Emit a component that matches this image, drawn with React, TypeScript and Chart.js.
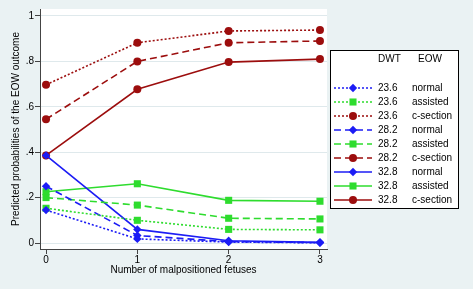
import React, { useEffect, useRef } from "react";
import { Chart, registerables } from "chart.js";

Chart.register(...registerables);

// ---- data ----
const xValues = [0, 1, 2, 3];
const xTickValues = [0, 1, 2, 3];
const yTickValues = [0, 0.2, 0.4, 0.6, 0.8, 1];
const yTickLabels = ["0", ".2", ".4", ".6", ".8", "1"];
const dwtLabels = ["23.6", "28.2", "32.8"];
const eowLabels = ["normal", "assisted", "c-section"];

const normal236 = [0.145, 0.018, 0.004, 0.001];
const assisted236 = [0.153, 0.1, 0.06, 0.058];
const csection236 = [0.697, 0.882, 0.934, 0.938];
const normal282 = [0.25, 0.033, 0.006, 0.002];
const assisted282 = [0.2, 0.167, 0.109, 0.106];
const csection282 = [0.545, 0.8, 0.882, 0.89];
const normal328 = [0.386, 0.06, 0.01, 0.003];
const assisted328 = [0.226, 0.261, 0.188, 0.184];
const csection328 = [0.386, 0.677, 0.797, 0.81];

const seriesByDwt = [
  [normal236, assisted236, csection236],
  [normal282, assisted282, csection282],
  [normal328, assisted328, csection328],
];

// ---- styles ----
const FONT = "'Liberation Sans', Arial, Helvetica, sans-serif";
const eowColors = ["#1c1cf5", "#2edc2e", "#9c0d0d"];
const eowPointStyles = ["rectRot", "rect", "circle"];
const eowPointRadius = [4.2, 5, 4];
const dwtDashes = [[2, 2], [7, 4], []];
const BG = "#eaf2f3";
const GRID = "#dfe9ec";
const AXIS = "#444444";

function drawMarker(ctx: CanvasRenderingContext2D, style: string, x: number, y: number, r: number, color: string) {
  ctx.save();
  ctx.fillStyle = color;
  ctx.setLineDash([]);
  ctx.beginPath();
  if (style === "circle") {
    ctx.arc(x, y, r, 0, Math.PI * 2);
  } else if (style === "rect") {
    const s = Math.SQRT1_2 * r;
    ctx.rect(x - s, y - s, 2 * s, 2 * s);
  } else {
    ctx.moveTo(x - r, y);
    ctx.lineTo(x, y - r);
    ctx.lineTo(x + r, y);
    ctx.lineTo(x, y + r);
    ctx.closePath();
  }
  ctx.fill();
  ctx.restore();
}

const backgroundPlugin = {
  id: "stataBackground",
  beforeDraw(chart: any) {
    const { ctx, chartArea } = chart;
    ctx.save();
    ctx.fillStyle = BG;
    ctx.fillRect(0, 0, chart.width, chart.height);
    ctx.fillStyle = "#ffffff";
    ctx.fillRect(chartArea.left, chartArea.top, chartArea.right - chartArea.left, chartArea.bottom - chartArea.top);
    ctx.restore();
  },
};

const legendPlugin = {
  id: "tableLegend",
  afterDraw(chart: any) {
    const { ctx } = chart;
    const bx = 330.5, by = 50.5, bw = 128, bh = 158;
    ctx.save();
    ctx.fillStyle = "#ffffff";
    ctx.fillRect(bx, by, bw, bh);
    ctx.strokeStyle = "#000000";
    ctx.lineWidth = 1;
    ctx.strokeRect(bx, by, bw, bh);
    ctx.font = `10px ${FONT}`;
    ctx.fillStyle = "#000000";
    ctx.textBaseline = "middle";
    ctx.textAlign = "left";
    ctx.fillText("DWT", 378, 59.5);
    ctx.fillText("EOW", 418, 59.5);
    chart.data.datasets.forEach((ds: any, i: number) => {
      const y = 88 + i * 14;
      ctx.save();
      ctx.strokeStyle = ds.borderColor;
      ctx.lineWidth = ds.borderWidth;
      ctx.setLineDash(ds.borderDash || []);
      ctx.beginPath();
      ctx.moveTo(334, y);
      ctx.lineTo(372, y);
      ctx.stroke();
      ctx.restore();
      drawMarker(ctx, ds.pointStyle, 353, y, ds.pointRadius, ds.borderColor);
      ctx.fillStyle = "#000000";
      ctx.fillText(ds.dwt, 378, y);
      ctx.fillText(ds.eow, 412, y);
    });
    ctx.restore();
  },
};

export default function App() {
  const ref = useRef<HTMLCanvasElement | null>(null);

  useEffect(() => {
    document.body.style.margin = "0";
    const canvas = ref.current;
    if (!canvas) return;
    const datasets: any[] = [];
    dwtLabels.forEach((dwt, di) => {
      eowLabels.forEach((eow, ei) => {
        const vals = seriesByDwt[di][ei];
        datasets.push({
          label: `${dwt} ${eow}`,
          dwt,
          eow,
          data: xValues.map((x, k) => ({ x, y: vals[k] })),
          borderColor: eowColors[ei],
          backgroundColor: eowColors[ei],
          pointBackgroundColor: eowColors[ei],
          pointBorderColor: eowColors[ei],
          pointBorderWidth: 0,
          borderWidth: 1.6,
          borderDash: dwtDashes[di],
          pointStyle: eowPointStyles[ei],
          pointRadius: eowPointRadius[ei],
          tension: 0,
          fill: false,
        });
      });
    });

    const font = { family: FONT, size: 10 };
    const chart = new Chart(canvas, {
      type: "line",
      data: { datasets },
      plugins: [backgroundPlugin, legendPlugin],
      options: {
        responsive: false,
        animation: false,
        devicePixelRatio: 1,
        layout: { padding: { top: 9, right: 146, left: 0, bottom: 0 } },
        plugins: { legend: { display: false }, tooltip: { enabled: false } },
        scales: {
          x: {
            type: "linear",
            min: -0.066,
            max: 3.077,
            afterBuildTicks: (s: any) => {
              s.ticks = xTickValues.map((v) => ({ value: v }));
            },
            afterFit: (s: any) => {
              s.height = 40;
            },
            ticks: {
              font,
              color: "#000000",
              padding: 0,
              autoSkip: false,
              maxRotation: 0,
              callback: (v: any) => String(v),
            },
            grid: { drawOnChartArea: false, drawTicks: true, tickLength: 5, color: AXIS, tickColor: AXIS },
            border: { display: true, color: AXIS, width: 1 },
            title: {
              display: true,
              text: "Number of malpositioned fetuses",
              font,
              color: "#000000",
              padding: { top: 0, bottom: 12.5 },
            },
          },
          y: {
            type: "linear",
            min: -0.0264,
            max: 1.0308,
            afterBuildTicks: (s: any) => {
              s.ticks = yTickValues.map((v) => ({ value: v }));
            },
            afterFit: (s: any) => {
              s.width = 40;
            },
            ticks: {
              font,
              color: "#000000",
              padding: 1,
              autoSkip: false,
              callback: (v: any) => {
                const i = yTickValues.findIndex((t) => Math.abs(t - v) < 1e-9);
                return i >= 0 ? yTickLabels[i] : "";
              },
            },
            grid: { color: GRID, drawTicks: true, tickLength: 5, tickColor: AXIS },
            border: { display: true, color: AXIS, width: 1 },
            title: {
              display: true,
              text: "Predicted probabilities of the EOW outcome",
              font,
              color: "#000000",
              padding: { top: 10.5, bottom: 0 },
            },
          },
        },
      } as any,
    });
    return () => chart.destroy();
  }, []);

  return <canvas ref={ref} width={473} height={289} style={{ display: "block", width: 473, height: 289 }} />;
}
